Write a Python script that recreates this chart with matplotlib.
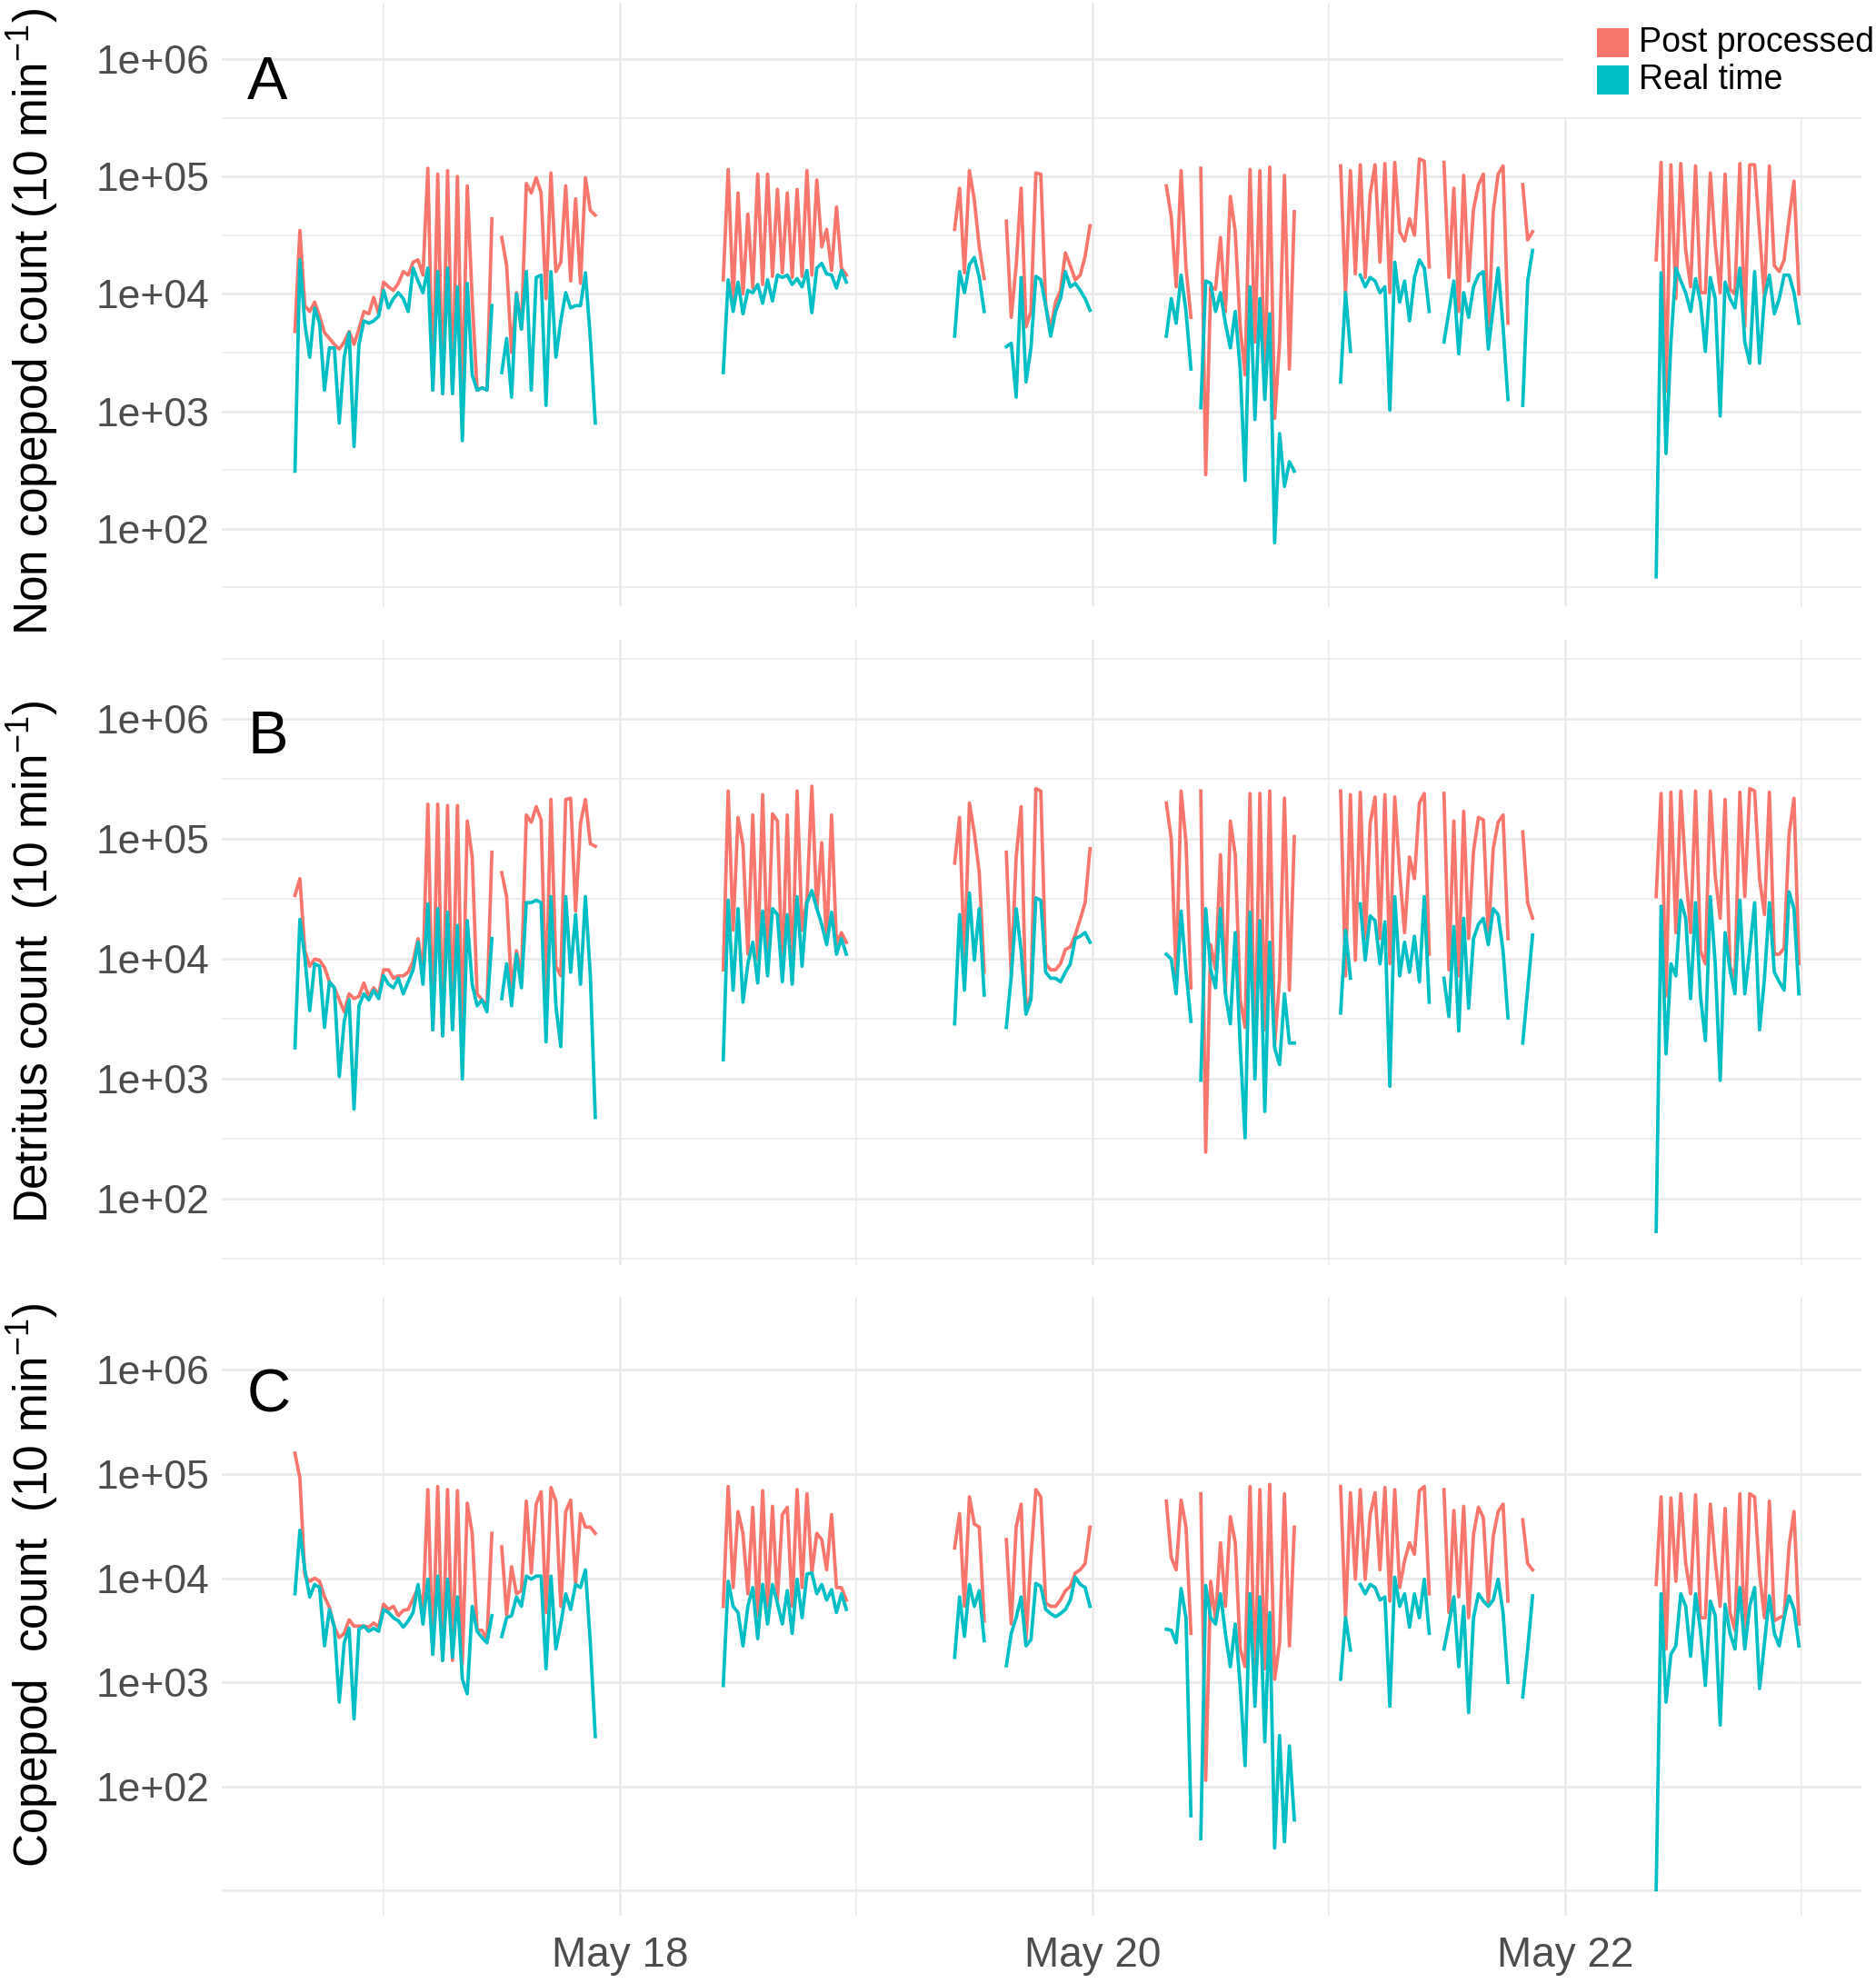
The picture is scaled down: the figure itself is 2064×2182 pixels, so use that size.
import numpy as np
import matplotlib
matplotlib.use("Agg")
import matplotlib.pyplot as plt
import matplotlib.dates as mdates
from matplotlib.patches import Rectangle
from matplotlib.ticker import FixedLocator, FuncFormatter, NullFormatter, NullLocator

plt.rcParams['font.family'] = ['Liberation Sans', 'DejaVu Sans']
plt.rcParams['mathtext.fontset'] = 'custom'
plt.rcParams['mathtext.rm'] = 'Liberation Sans'
plt.rcParams['mathtext.it'] = 'Liberation Sans:italic'
plt.rcParams['mathtext.bf'] = 'Liberation Sans:bold'

nan = np.nan
POST_COL = '#F8766D'
REAL_COL = '#00BFC4'
GRID_COL = '#EBEBEB'
TICK_COL = '#4D4D4D'

# time base; every recording block is sampled every 30 min
t0 = np.datetime64('2019-05-16T00:00')
seg_start_h = [15.0, 58.5, 82.0, 87.25, 103.5, 107.0, 121.2, 153.25]
step_h = 0.5

# log10 of counts per 10 min, one inner list per recording block
noncop_post = [
    [3.68, 4.54, 3.90, 3.85, 3.93, 3.81, 3.67, 3.62, 3.57, 3.53,
     3.59, 3.68, 3.57, 3.70, 3.85, 3.83, 3.97, 3.83, 4.10, 4.06,
     4.03, 4.09, 4.19, 4.16, 4.27, 4.29, 4.16, 5.07, 3.18, 5.02,
     3.15, 5.05, 3.15, 5.00, 3.05, 4.92, 3.95, 3.18, 3.20, 3.18,
     4.64, nan, 4.48, 4.24, 3.50, 4.01, 3.70, 4.94, 4.86, 4.99,
     4.86, 3.96, 5.03, 4.19, 4.27, 4.92, 4.11, 4.81, 4.09, 4.99,
     4.71, 4.67],
    [4.12, 5.06, 3.96, 4.86, 4.00, 4.68, 4.05, 5.02, 4.08, 5.02,
     4.15, 4.89, 4.18, 4.86, 4.14, 4.89, 4.15, 5.05, 4.16, 4.97,
     4.40, 4.55, 4.20, 4.74, 4.22, 4.16],
    [4.55, 4.90, 4.18, 5.05, 4.80, 4.40, 4.13],
    [4.62, 3.80, 4.24, 4.90, 3.72, 3.85, 5.03, 5.02, 3.90, 3.70,
     3.93, 4.03, 4.35, 4.24, 4.12, 4.16, 4.32, 4.58],
    [4.92, 4.66, 4.06, 5.05, 4.22, 3.80],
    [5.07, 2.46, 4.06, 4.04, 4.48, 3.85, 4.83, 4.53, 3.72, 3.31,
     5.06, 3.59, 5.05, 3.15, 5.08, 2.94, 3.58, 5.01, 3.36, 4.70],
    [5.09, 3.99, 5.05, 4.17, 5.10, 4.14, 4.85, 5.10, 4.27, 5.11,
     4.01, 5.12, 4.53, 4.45, 4.64, 4.50, 5.15, 5.13, 4.23, nan,
     nan, 5.12, 4.14, 4.90, 3.85, 5.01, 4.11, 4.72, 4.93, 5.02,
     3.59, 4.70, 5.02, 5.09, 3.75, nan, nan, 4.93, 4.46, 4.53],
    [4.29, 5.12, 3.17, 5.10, 3.96, 5.11, 4.37, 4.06, 5.09, 4.01,
     4.01, 5.03, 4.42, 4.01, 5.02, 4.04, 4.00, 5.11, 3.72, 5.10,
     5.10, 4.53, 3.96, 5.09, 4.24, 4.19, 4.29, 4.64, 4.96, 4.00],
]
noncop_real = [
    [2.49, 4.29, 3.75, 3.46, 3.88, 3.75, 3.18, 3.54, 3.54, 2.90,
     3.46, 3.67, 2.70, 3.57, 3.77, 3.75, 3.77, 3.81, 4.03, 3.88,
     3.96, 4.01, 3.96, 3.85, 4.22, 4.11, 4.01, 4.22, 3.18, 4.19,
     3.15, 4.22, 3.15, 4.06, 2.75, 4.09, 3.31, 3.18, 3.20, 3.18,
     3.90, nan, 3.33, 3.62, 3.12, 4.00, 3.70, 4.19, 3.18, 4.14,
     4.16, 3.05, 4.19, 3.46, 3.77, 4.01, 3.88, 3.90, 3.90, 4.18,
     3.62, 2.90],
    [3.33, 4.12, 3.85, 4.10, 3.83, 4.03, 4.01, 4.08, 3.92, 4.12,
     3.94, 4.16, 4.14, 4.16, 4.08, 4.13, 4.06, 4.20, 3.84, 4.22,
     4.26, 4.17, 4.16, 4.05, 4.20, 4.10],
    [3.64, 4.19, 4.01, 4.25, 4.31, 4.14, 3.85],
    [3.55, 3.58, 3.12, 4.14, 3.25, 3.54, 4.15, 4.12, 3.90, 3.64,
     3.85, 3.96, 4.19, 4.06, 4.09, 4.03, 3.96, 3.86],
    [3.64, 3.96, 3.75, 4.16, 3.85, 3.36],
    [3.03, 4.11, 4.09, 3.85, 4.01, 3.75, 3.54, 3.85, 3.36, 2.41,
     4.06, 2.93, 3.96, 3.10, 3.83, 1.88, 2.81, 2.36, 2.57, 2.49],
    [3.25, 4.01, 3.51, nan, 4.16, 4.06, 4.14, 4.11, 4.01, 4.06,
     3.01, 4.27, 3.93, 4.11, 3.77, 4.14, 4.29, 4.22, 3.85, nan,
     nan, 3.59, 3.85, 4.11, 3.49, 4.01, 3.80, 4.06, 4.16, 4.19,
     3.53, 3.88, 4.22, 3.72, 3.10, nan, nan, 3.05, 4.11, 4.37],
    [1.59, 4.18, 2.64, 3.59, 4.22, 4.11, 4.01, 3.85, 4.13, 3.93,
     3.51, 4.14, 3.96, 2.96, 4.10, 3.96, 3.88, 4.22, 3.59, 3.41,
     4.19, 3.41, 3.97, 4.16, 3.83, 3.96, 4.16, 4.16, 4.01, 3.75],
]

detritus_post = [
    [4.53, 4.67, 4.07, 3.94, 4.00, 3.99, 3.93, 3.81, 3.76, 3.66,
     3.56, 3.71, 3.67, 3.69, 3.80, 3.69, 3.76, 3.70, 3.91, 3.91,
     3.84, 3.86, 3.86, 3.89, 3.98, 4.17, 3.89, 5.29, 3.41, 5.29,
     3.36, 5.28, 3.46, 5.28, 3.36, 5.15, 4.85, 3.71, 3.66, 3.61,
     4.89, nan, 4.72, 4.52, 3.74, 4.07, 3.86, 5.20, 5.14, 5.27,
     5.16, 3.66, 5.33, 3.94, 3.86, 5.33, 5.34, 4.40, 5.13, 5.33,
     4.96, 4.94],
    [3.91, 5.40, 4.24, 5.18, 4.95, 4.04, 5.20, 4.00, 5.37, 3.96,
     5.21, 5.15, 3.86, 5.20, 3.81, 5.40, 4.24, 4.50, 5.44, 4.42,
     4.97, 4.14, 5.20, 4.12, 4.22, 4.14],
    [4.80, 5.18, 3.96, 5.30, 5.05, 4.72, 3.89],
    [4.89, 3.86, 4.85, 5.27, 3.56, 3.71, 5.42, 5.40, 3.96, 3.91,
     3.91, 3.96, 4.08, 4.10, 4.20, 4.33, 4.47, 4.92],
    [5.30, 5.00, 3.84, 5.40, 4.97, 3.76],
    [5.40, 2.39, 4.12, 3.91, 4.87, 3.71, 5.15, 4.87, 3.66, 3.43,
     5.38, 3.10, 5.38, 3.41, 5.40, 3.28, 3.84, 5.34, 3.74, 5.02],
    [5.40, 3.86, 5.37, 3.99, 5.39, 4.17, 5.13, 5.35, 4.17, 5.37,
     3.96, 5.35, 4.72, 4.22, 4.85, 4.67, 5.30, 5.38, 4.04, nan,
     nan, 5.38, 3.91, 5.15, 3.86, 5.23, 4.17, 4.90, 5.18, 5.16,
     4.17, 4.92, 5.14, 5.20, 4.17, nan, nan, 5.06, 4.47, 4.34],
    [4.52, 5.38, 3.69, 5.39, 4.22, 5.40, 4.72, 4.22, 5.40, 4.07,
     3.96, 5.40, 4.69, 4.34, 5.33, 3.94, 3.84, 5.39, 4.52, 5.42,
     5.40, 4.67, 4.37, 5.39, 4.04, 4.04, 4.09, 5.04, 5.34, 3.96],
]
detritus_real = [
    [3.26, 4.33, 4.02, 3.57, 3.96, 3.94, 3.43, 3.81, 3.76, 3.02,
     3.48, 3.66, 2.75, 3.61, 3.71, 3.66, 3.74, 3.67, 3.86, 3.79,
     3.76, 3.84, 3.71, 3.81, 3.91, 4.14, 3.79, 4.46, 3.41, 4.42,
     3.36, 4.39, 3.41, 4.28, 3.00, 4.32, 3.79, 3.61, 3.66, 3.56,
     4.17, nan, 3.67, 3.96, 3.61, 4.04, 3.76, 4.47, 4.47, 4.49,
     4.47, 3.31, 4.52, 3.61, 3.27, 4.52, 3.89, 4.37, 3.79, 4.52,
     3.86, 2.68],
    [3.16, 4.49, 3.74, 4.42, 3.64, 3.96, 4.14, 3.80, 4.40, 3.86,
     4.42, 4.37, 3.81, 4.37, 3.79, 4.52, 3.94, 4.47, 4.57, 4.42,
     4.29, 4.12, 4.39, 4.04, 4.17, 4.04],
    [3.46, 4.37, 3.74, 4.55, 3.99, 4.42, 3.70],
    [3.43, 3.86, 4.42, 4.07, 3.54, 3.66, 4.51, 4.49, 3.89, 3.84,
     3.84, 3.81, 3.89, 3.96, 4.17, 4.19, 4.22, 4.14],
    [4.04, 4.00, 3.71, 4.40, 3.90, 3.48],
    [2.99, 4.42, 3.91, 3.76, 4.42, 3.71, 3.46, 4.22, 3.28, 2.51,
     4.39, 3.00, 4.32, 2.73, 4.14, 3.26, 3.12, 3.71, 3.30, 3.30],
    [3.55, 4.24, 3.84, nan, 4.46, 3.99, 4.36, 4.32, 3.96, 4.31,
     2.94, 4.52, 3.86, 4.14, 3.89, 4.19, 3.81, 4.52, 3.64, nan,
     nan, 3.84, 3.52, 4.27, 3.40, 4.34, 3.59, 4.17, 4.29, 4.34,
     4.12, 4.42, 4.37, 4.07, 3.51, nan, nan, 3.30, 3.75, 4.20],
    [1.73, 4.44, 3.21, 3.96, 3.86, 4.49, 4.34, 3.67, 4.47, 3.69,
     3.32, 4.52, 3.96, 2.99, 4.22, 3.91, 3.71, 4.49, 3.71, 4.07,
     4.47, 3.41, 3.84, 4.47, 3.89, 3.81, 3.74, 4.56, 4.42, 3.71],
]

copepod_post = [
    [5.20, 4.96, 4.02, 3.97, 4.00, 3.97, 3.82, 3.72, 3.53, 3.43,
     3.47, 3.60, 3.54, 3.54, 3.54, 3.53, 3.57, 3.53, 3.75, 3.70,
     3.73, 3.64, 3.69, 3.70, 3.80, 3.91, 3.69, 4.85, 3.27, 4.88,
     3.21, 4.85, 3.21, 4.84, 3.18, 4.72, 4.43, 3.50, 3.50, 3.41,
     4.43, nan, 4.30, 3.65, 4.11, 3.85, 3.88, 4.74, 4.05, 4.71,
     4.83, 3.67, 4.87, 4.74, 3.73, 4.64, 4.75, 3.95, 4.62, 4.49,
     4.49, 4.43],
    [3.73, 4.88, 3.91, 4.64, 4.43, 3.85, 4.68, 3.64, 4.84, 3.73,
     4.69, 3.79, 4.61, 4.68, 3.73, 4.85, 3.91, 4.81, 4.05, 4.43,
     4.37, 4.08, 4.61, 3.91, 3.91, 3.79],
    [4.29, 4.62, 3.73, 4.78, 4.52, 4.49, 3.59],
    [4.37, 3.56, 4.49, 4.71, 3.41, 4.20, 4.85, 4.78, 3.76, 3.73,
     3.73, 3.79, 3.88, 3.92, 4.05, 4.08, 4.14, 4.49],
    [4.74, 4.20, 4.08, 4.75, 4.49, 3.47],
    [4.81, 2.06, 3.97, 3.60, 4.34, 3.73, 4.59, 4.34, 3.32, 3.15,
     4.88, 3.03, 4.85, 3.13, 4.90, 3.03, 3.38, 4.81, 3.35, 4.49],
    [4.88, 3.62, 4.82, 3.99, 4.85, 3.99, 4.61, 4.82, 4.08, 4.87,
     3.78, 4.85, 3.91, 4.17, 4.34, 4.23, 4.84, 4.88, 3.85, nan,
     nan, 4.85, 3.67, 4.65, 3.82, 4.69, 3.62, 4.42, 4.68, 4.58,
     3.76, 4.40, 4.64, 4.71, 3.78, nan, nan, 4.56, 4.14, 4.08],
    [3.94, 4.78, 3.32, 4.77, 3.97, 4.81, 4.14, 3.85, 4.80, 3.62,
     3.62, 4.71, 4.17, 3.73, 4.67, 3.67, 3.50, 4.81, 3.35, 4.81,
     4.78, 4.05, 3.62, 4.74, 3.59, 3.62, 3.64, 4.31, 4.64, 3.56],
]
copepod_real = [
    [3.85, 4.46, 4.08, 3.82, 3.94, 3.91, 3.35, 3.70, 3.53, 2.81,
     3.38, 3.52, 2.65, 3.51, 3.54, 3.49, 3.52, 3.49, 3.70, 3.67,
     3.62, 3.59, 3.53, 3.59, 3.67, 3.94, 3.56, 3.99, 3.27, 4.02,
     3.21, 3.99, 3.24, 3.82, 3.03, 2.89, 3.73, 3.49, 3.43, 3.38,
     3.64, nan, 3.44, 3.62, 3.64, 3.82, 3.73, 4.02, 3.99, 4.02,
     4.02, 3.13, 4.02, 3.32, 3.56, 3.85, 3.70, 3.94, 3.91, 4.08,
     3.38, 2.48],
    [2.97, 3.97, 3.73, 3.67, 3.35, 3.73, 3.91, 3.42, 3.94, 3.56,
     3.94, 3.76, 3.56, 3.88, 3.47, 3.99, 3.62, 4.04, 4.05, 3.85,
     3.94, 3.79, 3.89, 3.67, 3.85, 3.70],
    [3.24, 3.82, 3.44, 3.94, 3.73, 3.88, 3.40],
    [3.16, 3.47, 3.62, 3.82, 3.35, 3.41, 3.95, 3.92, 3.70, 3.66,
     3.63, 3.66, 3.70, 3.79, 4.01, 3.94, 3.91, 3.73],
    [3.51, 3.50, 3.38, 3.90, 3.62, 1.72],
    [1.50, 3.93, 3.62, 3.56, 3.85, 3.47, 3.15, 3.56, 2.97, 2.20,
     3.85, 2.77, 3.82, 2.43, 3.67, 1.41, 2.49, 1.47, 2.39, 1.68],
    [3.03, 3.62, 3.31, nan, 3.94, 3.85, 3.94, 3.91, 3.79, 3.82,
     2.77, 4.01, 3.73, 3.85, 3.53, 3.85, 3.62, 3.99, 3.47, nan,
     nan, 3.32, 3.56, 3.82, 3.15, 3.73, 2.71, 3.62, 3.85, 3.78,
     3.73, 3.79, 3.99, 3.67, 3.00, nan, nan, 2.86, 3.32, 3.83],
    [1.01, 3.85, 2.81, 3.27, 3.35, 3.85, 3.73, 3.25, 3.85, 3.50,
     2.97, 3.78, 3.64, 2.59, 3.75, 3.47, 3.32, 3.91, 3.32, 3.73,
     3.91, 2.94, 3.38, 3.83, 3.47, 3.35, 3.62, 3.83, 3.70, 3.35],
]

W, H = 2064, 2182
fig = plt.figure(figsize=(W / 100, H / 100), dpi=100)


def seg_times(i, n):
    mins = np.round((seg_start_h[i] + step_h * np.arange(n)) * 60).astype(int)
    return t0 + mins.astype('timedelta64[m]')


def log_label(v, pos):
    e = int(round(np.log10(v)))
    return f'1e+{e:02d}' if e >= 2 else ''


panels = [
    dict(post=noncop_post, real=noncop_real, tag='A',
         title='Non copepod count (10 min$^{-1}$)',
         box=(244, 3, 2048, 667), ylog=(1.34, 6.48), minor=True, title_y=354, tag_y=92),
    dict(post=detritus_post, real=detritus_real, tag='B',
         title='Detritus count  (10 min$^{-1}$)',
         box=(244, 704, 2048, 1392), ylog=(1.45, 6.66), minor=True, title_y=1058, tag_y=812),
    dict(post=copepod_post, real=copepod_real, tag='C',
         title='Copepod  count  (10 min$^{-1}$)',
         box=(244, 1427, 2048, 2108), ylog=(0.76, 6.70), minor=False, title_y=1744, tag_y=1537),
]

for n, p in enumerate(panels):
    left, top, right, bottom = p['box']
    ax = fig.add_axes([left / W, 1 - bottom / H, (right - left) / W, (bottom - top) / H])

    for series, col in ((p['post'], POST_COL), (p['real'], REAL_COL)):
        for i, vals in enumerate(series):
            t = seg_times(i, len(vals))
            ax.plot(t, 10 ** np.array(vals), color=col, lw=2.7, solid_joinstyle='round')

    ax.set_yscale('log')
    ax.set_ylim(10 ** p['ylog'][0], 10 ** p['ylog'][1])
    ax.set_xlim(t0 + np.timedelta64(454, 'm'), t0 + np.timedelta64(10446, 'm'))

    if p['minor']:
        ax.yaxis.set_major_locator(FixedLocator([1e2, 1e3, 1e4, 1e5, 1e6]))
        ax.yaxis.set_minor_locator(FixedLocator([10 ** (k + 0.5) for k in range(1, 7)]))
    else:
        ax.yaxis.set_major_locator(FixedLocator([1e1, 1e2, 1e3, 1e4, 1e5, 1e6]))
        ax.yaxis.set_minor_locator(NullLocator())
    ax.yaxis.set_major_formatter(FuncFormatter(log_label))
    ax.yaxis.set_minor_formatter(NullFormatter())

    ax.xaxis.set_major_locator(mdates.DayLocator(bymonthday=[18, 20, 22]))
    ax.xaxis.set_minor_locator(mdates.DayLocator(bymonthday=[17, 19, 21, 23]))
    ax.xaxis.set_major_formatter(mdates.DateFormatter('%b %d'))
    ax.xaxis.set_minor_formatter(NullFormatter())

    ax.grid(True, which='major', color=GRID_COL, lw=2.0)
    ax.grid(True, which='minor', color=GRID_COL, lw=1.2)
    ax.set_axisbelow(True)
    for s in ax.spines.values():
        s.set_visible(False)
    ax.tick_params(which='both', length=0)
    ax.tick_params(axis='y', labelsize=32, labelcolor=TICK_COL, pad=10)
    ax.tick_params(axis='x', labelsize=33, labelcolor=TICK_COL, pad=16,
                   labelbottom=(n == len(panels) - 1))

    fig.text(36 / W, 1 - p['title_y'] / H, p['title'], rotation=90, fontsize=37,
             ha='center', va='center')
    fig.text(272 / W, 1 - p['tag_y'] / H, p['tag'], fontsize=48, ha='left', va='center')

# legend in the top right corner, on a white box over the grid
fig.add_artist(Rectangle((1720 / W, 1 - 129 / H), (W - 1720) / W, 129 / H,
                         transform=fig.transFigure, fc='white', ec='none', zorder=2))
for lab, col, yc in (('Post processed', POST_COL, 47), ('Real time', REAL_COL, 88)):
    fig.add_artist(Rectangle((1757 / W, 1 - (yc + 16) / H), 35 / W, 32 / H,
                             transform=fig.transFigure, fc=col, ec='none', zorder=3))
    fig.text(1803 / W, 1 - yc / H, lab, fontsize=27, ha='left', va='center', zorder=4)

fig.savefig('out.png', dpi=100)
